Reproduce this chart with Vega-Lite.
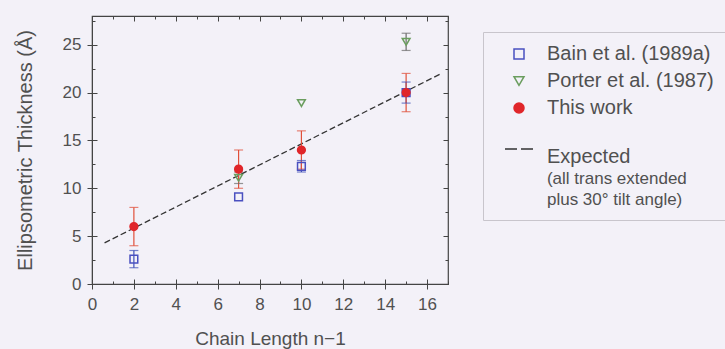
{
  "$schema": "https://vega.github.io/schema/vega-lite/v6.json",
  "width": 356,
  "height": 268,
  "autosize": "none",
  "padding": {"left": 92, "top": 16, "right": 277, "bottom": 65},
  "background": "#f3f1f8",
  "config": {"view": {"stroke": "#444444", "strokeWidth": 1.2}, "font": "Liberation Sans"},
  "datasets": {
    "expected": [{"x": 0.6, "y": 4.3}, {"x": 16.6, "y": 21.9}],
    "points": [
      {"series": "Bain et al. (1989a)", "x": 2, "y": 2.6, "lo": 1.7, "hi": 3.5},
      {"series": "Bain et al. (1989a)", "x": 7, "y": 9.1, "lo": null, "hi": null},
      {"series": "Bain et al. (1989a)", "x": 10, "y": 12.3, "lo": 11.7, "hi": 12.9},
      {"series": "Bain et al. (1989a)", "x": 15, "y": 20.0, "lo": 18.9, "hi": 21.1},
      {"series": "Porter et al. (1987)", "x": 7, "y": 11.1, "lo": 10.5, "hi": 11.7},
      {"series": "Porter et al. (1987)", "x": 10, "y": 18.9, "lo": null, "hi": null},
      {"series": "Porter et al. (1987)", "x": 15, "y": 25.3, "lo": 24.4, "hi": 26.2},
      {"series": "This work", "x": 2, "y": 6, "lo": 4, "hi": 8},
      {"series": "This work", "x": 7, "y": 12, "lo": 10, "hi": 14},
      {"series": "This work", "x": 10, "y": 14, "lo": 12, "hi": 16},
      {"series": "This work", "x": 15, "y": 20, "lo": 18, "hi": 22}
    ]
  },
  "layer": [
    {
      "data": {"name": "expected"},
      "mark": {"type": "line", "color": "#333333", "strokeDash": [6, 3], "strokeWidth": 1.3},
      "encoding": {
        "x": {
          "field": "x", "type": "quantitative",
          "scale": {"domain": [0, 17], "nice": false, "zero": false},
          "axis": {"orient": "bottom", "values": [0, 2, 4, 6, 8, 10, 12, 14, 16], "grid": false, "tickSize": 5, "tickColor": "#444444", "domainColor": "#444444", "labelFontSize": 17, "labelColor": "#505050", "labelPadding": 7, "labelFlush": false, "title": "Chain Length n−1", "titleFontSize": 19, "titleFontWeight": "normal", "titleColor": "#505050", "titlePadding": 17}
        },
        "y": {
          "field": "y", "type": "quantitative",
          "scale": {"domain": [0, 28], "nice": false, "zero": false},
          "axis": {"orient": "left", "values": [0, 5, 10, 15, 20, 25], "grid": false, "tickSize": 5, "tickColor": "#444444", "domainColor": "#444444", "labelFontSize": 17, "labelColor": "#505050", "labelPadding": 6, "labelFlush": false, "title": "Ellipsometric Thickness (Å)", "titleFontSize": 20, "titleFontWeight": "normal", "titleColor": "#505050", "titlePadding": 27}
        }
      }
    },
    {
      "data": {"name": "points"},
      "transform": [{"filter": "datum.lo != null"}],
      "mark": {"type": "rule", "strokeWidth": 1.2},
      "encoding": {
        "x": {
          "field": "x", "type": "quantitative",
          "axis": {"orient": "bottom", "values": [0, 1, 2, 3, 4, 5, 6, 7, 8, 9, 10, 11, 12, 13, 14, 15, 16, 17], "labels": false, "domain": false, "grid": false, "title": null, "tickColor": "#444444", "tickSize": {"condition": {"test": "datum.value % 2 === 0", "value": -5}, "value": -3}}
        },
        "y": {
          "field": "lo", "type": "quantitative",
          "axis": {"orient": "left", "values": [0, 2.5, 5, 7.5, 10, 12.5, 15, 17.5, 20, 22.5, 25, 27.5], "labels": false, "domain": false, "grid": false, "title": null, "tickColor": "#444444", "tickSize": {"condition": {"test": "datum.value % 5 === 0", "value": -5}, "value": -3}}
        },
        "y2": {"field": "hi"},
        "color": {"field": "series", "type": "nominal", "scale": {"domain": ["Bain et al. (1989a)", "Porter et al. (1987)", "This work"], "range": ["#4050b8", "#6a6a6a", "#e0503a"]}, "legend": null}
      }
    },
    {
      "data": {"name": "points"},
      "transform": [{"filter": "datum.lo != null"}],
      "mark": {"type": "tick", "orient": "horizontal", "size": 9, "thickness": 1.2},
      "encoding": {
        "x": {"field": "x", "type": "quantitative", "axis": null},
        "y": {"field": "lo", "type": "quantitative", "axis": null},
        "color": {"field": "series", "type": "nominal", "legend": null}
      }
    },
    {
      "data": {"name": "points"},
      "transform": [{"filter": "datum.lo != null"}],
      "mark": {"type": "tick", "orient": "horizontal", "size": 9, "thickness": 1.2},
      "encoding": {
        "x": {"field": "x", "type": "quantitative", "axis": null},
        "y": {"field": "hi", "type": "quantitative", "axis": null},
        "color": {"field": "series", "type": "nominal", "legend": null}
      }
    },
    {
      "data": {"name": "points"},
      "mark": {"type": "point", "size": 60, "strokeWidth": 1.5, "opacity": 1},
      "encoding": {
        "x": {
          "field": "x", "type": "quantitative",
          "axis": {"orient": "top", "values": [0, 1, 2, 3, 4, 5, 6, 7, 8, 9, 10, 11, 12, 13, 14, 15, 16, 17], "labels": false, "domain": false, "grid": false, "title": null, "tickColor": "#444444", "tickSize": {"condition": {"test": "datum.value % 2 === 0", "value": -5}, "value": -3}}
        },
        "y": {
          "field": "y", "type": "quantitative",
          "axis": {"orient": "right", "values": [0, 2.5, 5, 7.5, 10, 12.5, 15, 17.5, 20, 22.5, 25, 27.5], "labels": false, "domain": false, "grid": false, "title": null, "tickColor": "#444444", "tickSize": {"condition": {"test": "datum.value % 5 === 0", "value": -5}, "value": -3}}
        },
        "shape": {
          "field": "series", "type": "nominal",
          "scale": {"domain": ["Bain et al. (1989a)", "Porter et al. (1987)", "This work", "Expected"], "range": ["square", "triangle-down", "circle", "M-2.8,2.8H-0.4M0.4,2.8H2.8"]},
          "legend": {
            "orient": "none", "legendX": 391, "legendY": 16,
            "title": ["\u200b\u00a0\u00a0\u00a0\u00a0\u00a0\u00a0\u00a0\u00a0\u00a0\u00a0\u00a0(all trans extended", "\u200b\u00a0\u00a0\u00a0\u00a0\u00a0\u00a0\u00a0\u00a0\u00a0\u00a0\u00a0plus 30° tilt angle)"],
            "titleOrient": "bottom", "titleFontSize": 17, "titleFontWeight": "normal", "titleColor": "#505050", "titleLineHeight": 21, "titleBaseline": "top", "titlePadding": -18, "titleLimit": 400,
            "labelExpr": "datum.label === 'Expected' ? ['', '', 'Expected'] : datum.label",
            "labelFontSize": 20, "labelColor": "#505050", "labelLimit": 400,
            "symbolSize": 100, "symbolStrokeWidth": 1.5, "symbolOffset": 14, "labelOffset": 18,
            "rowPadding": 7, "padding": 12, "strokeColor": "#c8c5cc", "cornerRadius": 0
          }
        },
        "stroke": {
          "field": "series", "type": "nominal",
          "scale": {"domain": ["Bain et al. (1989a)", "Porter et al. (1987)", "This work", "Expected"], "range": ["#4a50c0", "#6a9d5e", "#e0262a", "#333333"]}
        },
        "fill": {
          "field": "series", "type": "nominal",
          "scale": {"domain": ["Bain et al. (1989a)", "Porter et al. (1987)", "This work", "Expected"], "range": ["transparent", "transparent", "#e0262a", "transparent"]}
        }
      }
    }
  ],
  "resolve": {"axis": {"x": "independent", "y": "independent"}}
}
